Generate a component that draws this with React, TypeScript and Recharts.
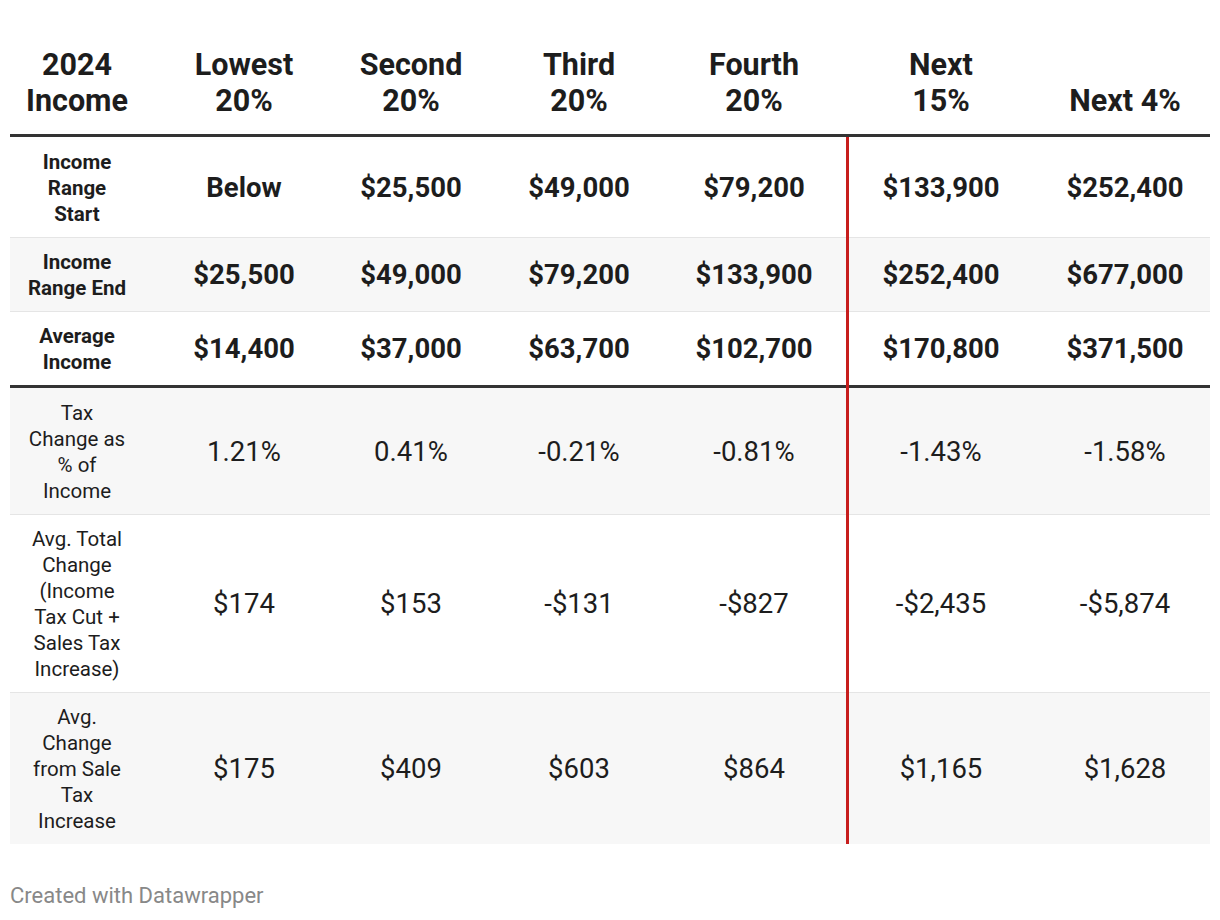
import { ReferenceArea, ReferenceLine, Scatter, ScatterChart, XAxis, YAxis } from "recharts";

const headers = ["2024\nIncome", "Lowest\n20%", "Second\n20%", "Third\n20%", "Fourth\n20%", "Next\n15%", "Next 4%"];

const rowLabels = [
  "Income\nRange\nStart",
  "Income\nRange End",
  "Average\nIncome",
  "Tax\nChange as\n% of\nIncome",
  "Avg. Total\nChange\n(Income\nTax Cut +\nSales Tax\nIncrease)",
  "Avg.\nChange\nfrom Sale\nTax\nIncrease",
];

const incomeRangeStart = ["Below", "$25,500", "$49,000", "$79,200", "$133,900", "$252,400"];
const incomeRangeEnd = ["$25,500", "$49,000", "$79,200", "$133,900", "$252,400", "$677,000"];
const averageIncome = ["$14,400", "$37,000", "$63,700", "$102,700", "$170,800", "$371,500"];
const taxChangePct = ["1.21%", "0.41%", "-0.21%", "-0.81%", "-1.43%", "-1.58%"];
const avgTotalChange = ["$174", "$153", "-$131", "-$827", "-$2,435", "-$5,874"];
const avgSaleTaxChange = ["$175", "$409", "$603", "$864", "$1,165", "$1,628"];

const rowValues = [incomeRangeStart, incomeRangeEnd, averageIncome, taxChangePct, avgTotalChange, avgSaleTaxChange];
// first three rows are bold (income bands)
const boldRows = [true, true, true, false, false, false];
const shadedRows = [false, true, false, true, false, true];

// layout (chart px units)
const W = 1204;
const H = 904;
const colCenters = [67, 234, 401, 569, 744, 931, 1115];
const splitX = 837.5;
const headerBaseline = 103;
const headerBottom = 129;
const lineH = 26;
const rowPad = 22;
const thickAfter = 2;

const rowBounds: { top: number; bottom: number }[] = [];
{
  let y = headerBottom;
  rowLabels.forEach((label, i) => {
    const h = label.split("\n").length * lineH + rowPad;
    rowBounds.push({ top: y, bottom: y + h });
    y += h;
    if (i === thickAfter) y += 3;
  });
}

type Cell = { x: number; y: number; text: string; kind: string };

const cells: Cell[] = [];
headers.forEach((h, c) => cells.push({ x: colCenters[c], y: headerBaseline, text: h, kind: "header" }));
rowLabels.forEach((label, r) => {
  const cy = (rowBounds[r].top + rowBounds[r].bottom) / 2;
  cells.push({ x: colCenters[0], y: cy, text: label, kind: boldRows[r] ? "labelBold" : "label" });
  rowValues[r].forEach((v, c) =>
    cells.push({ x: colCenters[c + 1], y: cy, text: v, kind: boldRows[r] ? "valueBold" : "value" })
  );
});

const styles: Record<string, { size: number; weight: number; lh: number }> = {
  header: { size: 30.5, weight: 700, lh: 36 },
  labelBold: { size: 20.5, weight: 700, lh: 26 },
  label: { size: 20.5, weight: 400, lh: 26 },
  valueBold: { size: 27.5, weight: 700, lh: 30 },
  value: { size: 27.5, weight: 400, lh: 30 },
};

const CellText = (props: any) => {
  const { cx, cy, payload } = props;
  if (cx == null || cy == null || !payload) return null;
  const st = styles[payload.kind];
  const lines = payload.text.split("\n");
  const n = lines.length;
  const first =
    payload.kind === "header" ? cy - (n - 1) * st.lh : cy - ((n - 1) / 2) * st.lh + st.size * 0.355 + 0.5;
  return (
    <text
      textAnchor="middle"
      fontFamily="Roboto, sans-serif"
      fontSize={st.size}
      fontWeight={st.weight}
      fill="#1d1d1d"
    >
      {lines.map((l: string, i: number) => (
        <tspan key={i} x={cx} y={first + i * st.lh}>
          {l}
        </tspan>
      ))}
    </text>
  );
};

export default function App() {
  const last = rowBounds[rowBounds.length - 1];
  return (
    <div style={{ position: "relative", width: W, height: H }}>
      <ScatterChart width={W} height={H} margin={{ top: 0, right: 2, bottom: 0, left: 2 }}>
        <XAxis type="number" dataKey="x" domain={[0, 1200]} hide />
        <YAxis type="number" dataKey="y" domain={[0, H]} reversed hide />
        {rowBounds.map((b, i) =>
          shadedRows[i] ? (
            <ReferenceArea
              key={`bg${i}`}
              x1={0}
              x2={1200}
              y1={b.top}
              y2={b.bottom}
              fill="#f7f7f7"
              fillOpacity={1}
              stroke="none"
            />
          ) : null
        )}
        {rowBounds.map((b, i) =>
          i > 0 && i !== thickAfter + 1 ? (
            <ReferenceLine key={`sep${i}`} y={b.top + 0.5} stroke="#e5e5e5" strokeWidth={1} />
          ) : null
        )}
        <ReferenceLine y={headerBottom - 1.5} stroke="#333333" strokeWidth={3} />
        <ReferenceLine y={rowBounds[thickAfter].bottom + 1.5} stroke="#333333" strokeWidth={3} />
        <ReferenceLine
          segment={[
            { x: splitX, y: rowBounds[0].top },
            { x: splitX, y: last.bottom },
          ]}
          stroke="#c71e1d"
          strokeWidth={3}
        />
        <Scatter data={cells} isAnimationActive={false} shape={CellText} />
      </ScatterChart>
      <div
        style={{
          position: "absolute",
          left: 2,
          top: 876,
          fontFamily: "Roboto, sans-serif",
          fontSize: 22,
          lineHeight: "24px",
          color: "#888888",
        }}
      >
        Created with Datawrapper
      </div>
    </div>
  );
}
